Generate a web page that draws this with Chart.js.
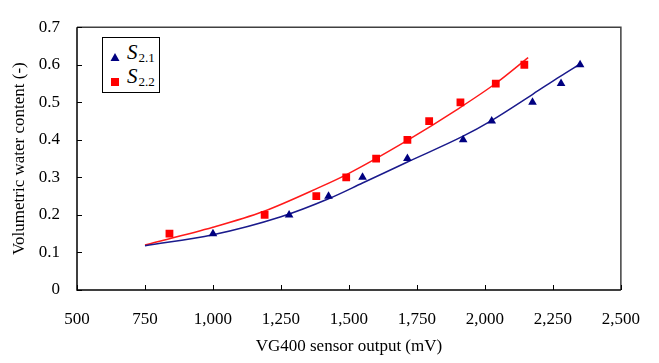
<!DOCTYPE html>
<html>
<head>
<meta charset="utf-8">
<script src="https://cdn.jsdelivr.net/npm/chart.js@4.4.0/dist/chart.umd.min.js"></script>
<style>
    body { margin: 0; background: #fff; }
    #wrap { position: relative; width: 659px; height: 363px; }
    #legend {
        position: absolute; left: 102px; top: 37px; width: 56px; height: 54px;
        border: 1px solid #000; background: #fff;
        font-family: "Liberation Serif", "Times New Roman", serif; color: #000;
    }
    #legend .mk { position: absolute; left: 7px; }
    #legend .txt { position: absolute; left: 24px; font-size: 21px; line-height: 1; white-space: nowrap; }
    #legend sub { font-size: 13px; vertical-align: -3px; margin-left: 1px; }
</style>
</head>
<body>
<div id="wrap">
    <canvas id="chart" width="659" height="363"></canvas>
    <div id="legend"></div>
</div>
<script>
// measured points
const s21X = [1000, 1280, 1425, 1550, 1715, 1920, 2025, 2175, 2280, 2350];
const s21Y = [0.15, 0.20, 0.25, 0.30, 0.35, 0.40, 0.45, 0.50, 0.55, 0.60];
const s22X = [840, 1190, 1380, 1490, 1600, 1715, 1795, 1910, 2040, 2145];
const s22Y = [0.15, 0.20, 0.25, 0.30, 0.35, 0.40, 0.45, 0.50, 0.55, 0.60];

// fitted curves
const fit21X = [750, 1000, 1250, 1425, 1550, 1715, 1918, 2021, 2177, 2277, 2350];
const fit21Y = [0.118, 0.147, 0.195, 0.243, 0.285, 0.341, 0.409, 0.450, 0.522, 0.569, 0.602];
const fit22X = [750, 1000, 1185, 1393, 1491, 1718, 1896, 2043, 2159];
const fit22Y = [0.120, 0.167, 0.209, 0.274, 0.3075, 0.400, 0.480, 0.552, 0.619];

const seriesLabels = ["2.1", "2.2"];
const xTitle = "VG400 sensor output (mV)";
const yTitle = "Volumetric water content (-)";

const toPts = (xs, ys) => xs.map((x, i) => ({ x: x, y: ys[i] }));
const serif = "'Liberation Serif', 'Times New Roman', serif";

// inside ticks + frame
const frame = {
    id: 'frame',
    afterDraw(chart) {
        const c = chart.ctx, a = chart.chartArea;
        const xs = chart.scales.x, ys = chart.scales.y;
        c.save();
        c.strokeStyle = '#404040';
        c.lineWidth = 1.5;
        c.beginPath();
        c.moveTo(a.left, a.top); c.lineTo(a.right, a.top); c.lineTo(a.right, a.bottom);
        c.stroke();
        c.strokeStyle = '#000';
        c.beginPath();
        c.moveTo(a.left, a.top); c.lineTo(a.left, a.bottom); c.lineTo(a.right, a.bottom);
        c.stroke();
        c.lineWidth = 1;
        c.beginPath();
        xs.ticks.forEach(t => {
            const px = Math.round(xs.getPixelForValue(t.value)) + 0.5;
            c.moveTo(px, a.bottom); c.lineTo(px, a.bottom - 5);
        });
        ys.ticks.forEach(t => {
            const py = Math.round(ys.getPixelForValue(t.value)) + 0.5;
            c.moveTo(a.left, py); c.lineTo(a.left + 5, py);
        });
        c.stroke();
        c.restore();
    }
};

const ctx = document.getElementById('chart').getContext('2d');
const chart = new Chart(ctx, {
    type: 'scatter',
    data: {
        datasets: [
            {
                label: 'S2.1',
                data: toPts(s21X, s21Y),
                pointStyle: 'triangle',
                pointRadius: 5,
                backgroundColor: '#000080',
                borderColor: '#000080',
                borderWidth: 0,
                order: 0
            },
            {
                label: 'S2.2',
                data: toPts(s22X, s22Y),
                pointStyle: 'rect',
                pointRadius: 5.5,
                backgroundColor: '#ff0000',
                borderColor: '#ff0000',
                borderWidth: 0,
                order: 0
            },
            {
                type: 'line',
                label: 'fit 2.1',
                data: toPts(fit21X, fit21Y),
                borderColor: '#1a1a8c',
                borderWidth: 1.5,
                pointRadius: 0,
                cubicInterpolationMode: 'monotone',
                fill: false,
                order: 1
            },
            {
                type: 'line',
                label: 'fit 2.2',
                data: toPts(fit22X, fit22Y),
                borderColor: '#ff1a1a',
                borderWidth: 1.5,
                pointRadius: 0,
                cubicInterpolationMode: 'monotone',
                fill: false,
                order: 1
            }
        ]
    },
    options: {
        responsive: false,
        animation: false,
        layout: { padding: { left: 0, right: 38, top: 13, bottom: 0 } },
        plugins: {
            legend: { display: false },
            tooltip: { enabled: false }
        },
        scales: {
            x: {
                type: 'linear',
                min: 500,
                max: 2500,
                afterFit(scale) { scale.height = 73; },
                border: { display: false },
                grid: { display: false, drawTicks: false },
                ticks: {
                    stepSize: 250,
                    padding: 19,
                    color: '#000',
                    maxRotation: 0,
                    font: { family: serif, size: 17 },
                    callback: v => v.toLocaleString('en-US')
                },
                title: {
                    display: true,
                    text: xTitle,
                    color: '#000',
                    font: { family: serif, size: 17 },
                    padding: { top: 0, bottom: 6 }
                }
            },
            y: {
                min: 0,
                max: 0.7,
                afterFit(scale) { scale.width = 77; },
                border: { display: false },
                grid: { display: false, drawTicks: false },
                ticks: {
                    stepSize: 0.1,
                    padding: 17,
                    color: '#000',
                    font: { family: serif, size: 17 },
                    callback: v => (Math.round(v * 10) / 10).toString()
                },
                title: {
                    display: true,
                    text: yTitle,
                    color: '#000',
                    font: { family: serif, size: 17 },
                    padding: { top: 9, bottom: 0 }
                }
            }
        }
    },
    plugins: [frame]
});

// html legend, so the subscripts stay real text
const legend = document.getElementById('legend');
const markers = [
    '<svg width="10" height="10"><polygon points="5,1 9.5,9 0.5,9" fill="#000080"/></svg>',
    '<svg width="10" height="10"><rect x="1" y="1" width="8" height="8" fill="#ff0000"/></svg>'
];
const markerTops = [10, 35];
const textTops = [4, 28];
seriesLabels.forEach((lab, i) => {
    const mk = document.createElement('span');
    mk.className = 'mk';
    mk.style.top = markerTops[i] + 'px';
    mk.innerHTML = markers[i];
    legend.appendChild(mk);
    const txt = document.createElement('span');
    txt.className = 'txt';
    txt.style.top = textTops[i] + 'px';
    txt.innerHTML = `<i>S</i><sub>${lab}</sub>`;
    legend.appendChild(txt);
});
</script>
</body>
</html>
